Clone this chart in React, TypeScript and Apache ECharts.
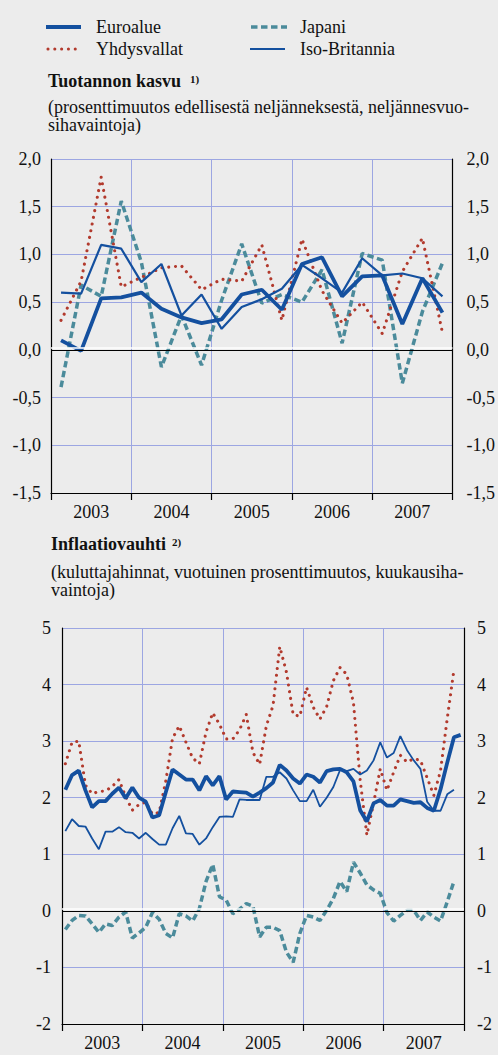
import React, { useEffect, useRef } from 'react';
import * as echarts from 'echarts';

// ---------- categories ----------
const years = ['2003', '2004', '2005', '2006', '2007'];
const quarterNames = ['Q1', 'Q2', 'Q3', 'Q4'];
const monthNames = ['01', '02', '03', '04', '05', '06', '07', '08', '09', '10', '11', '12'];
const quarters = years.flatMap((y) => quarterNames.map((q) => `${y} ${q}`));
const months = years.flatMap((y) => monthNames.map((m) => `${y}-${m}`));

// ---------- Tuotannon kasvu (quarterly, %) ----------
const gdpEuro = [0.10, -0.01, 0.54, 0.55, 0.60, 0.43, 0.34, 0.28, 0.32, 0.58, 0.63, 0.42, 0.90, 0.97, 0.56, 0.77, 0.78, 0.27, 0.75, 0.39];
const gdpUS = [0.31, 0.72, 1.81, 0.66, 0.76, 0.86, 0.88, 0.63, 0.74, 0.72, 1.10, 0.31, 1.16, 0.62, 0.28, 0.50, 0.17, 0.82, 1.17, 0.18];
const gdpJapan = [-0.39, 0.68, 0.56, 1.56, 0.92, -0.18, 0.36, -0.16, 0.52, 1.11, 0.49, 0.58, 0.50, 0.84, 0.07, 1.01, 0.94, -0.35, 0.40, 0.91];
const gdpUK = [0.60, 0.59, 1.10, 1.06, 0.71, 0.90, 0.36, 0.58, 0.22, 0.45, 0.53, 0.64, 0.89, 0.75, 0.60, 0.96, 0.78, 0.80, 0.75, 0.56];

// ---------- Inflaatiovauhti (monthly, %) ----------
const cpiEuro = [
  2.14, 2.40, 2.48, 2.13, 1.83, 1.94, 1.94, 2.07, 2.18, 1.99, 2.18, 2.00,
  1.93, 1.65, 1.69, 2.10, 2.50, 2.41, 2.32, 2.32, 2.13, 2.38, 2.22, 2.38,
  1.97, 2.11, 2.10, 2.09, 2.02, 2.09, 2.17, 2.27, 2.58, 2.48, 2.34, 2.25,
  2.41, 2.37, 2.27, 2.47, 2.50, 2.51, 2.45, 2.29, 1.78, 1.58, 1.90, 1.96,
  1.86, 1.86, 1.97, 1.94, 1.91, 1.92, 1.82, 1.77, 2.15, 2.62, 3.07, 3.11,
];
const cpiUS = [
  2.60, 2.98, 3.00, 2.22, 2.07, 2.11, 2.12, 2.20, 2.32, 2.02, 1.78, 1.88,
  1.92, 1.71, 1.74, 2.30, 3.05, 3.27, 2.98, 2.70, 2.60, 3.16, 3.50, 3.30,
  3.04, 3.04, 3.20, 3.47, 2.80, 2.59, 3.27, 3.63, 4.67, 4.22, 3.47, 3.44,
  3.95, 3.60, 3.39, 3.61, 4.07, 4.30, 4.18, 3.68, 2.31, 1.34, 1.90, 2.51,
  2.13, 2.45, 2.75, 2.63, 2.69, 2.66, 2.35, 2.04, 2.48, 3.40, 4.26, null,
];
const cpiJapan = [
  -0.33, -0.17, -0.08, -0.09, -0.23, -0.38, -0.23, -0.26, -0.11, -0.02, -0.48, -0.39,
  -0.29, -0.03, -0.15, -0.40, -0.48, -0.05, -0.09, -0.18, 0.04, 0.52, 0.82, 0.25,
  0.19, -0.05, 0.03, 0.13, 0.08, -0.46, -0.29, -0.29, -0.35, -0.73, -0.91, -0.40,
  -0.08, -0.11, -0.17, 0.01, 0.22, 0.52, 0.34, 0.86, 0.67, 0.46, 0.37, 0.31,
  -0.03, -0.18, -0.08, 0.01, 0.01, -0.17, -0.02, -0.11, -0.18, 0.16, 0.52, null,
];
const cpiUK = [
  1.41, 1.62, 1.50, 1.49, 1.28, 1.09, 1.40, 1.40, 1.48, 1.39, 1.38, 1.28,
  1.38, 1.27, 1.17, 1.17, 1.46, 1.68, 1.37, 1.36, 1.17, 1.28, 1.48, 1.66,
  1.67, 1.66, 1.97, 1.96, 1.96, 1.96, 2.37, 2.37, 2.45, 2.34, 2.13, 1.94,
  1.94, 2.14, 1.84, 2.00, 2.19, 2.49, 2.47, 2.51, 2.41, 2.48, 2.66, 2.98,
  2.71, 2.79, 3.09, 2.84, 2.66, 2.51, 1.93, 1.77, 1.77, 2.06, 2.14, null,
];

// ---------- axis scales ----------
const gdpAxis = { min: -1.5, max: 2.0, interval: 0.5 };
const cpiAxis = { min: -2, max: 5, interval: 1 };

// ---------- texts ----------
const legendNames = { euro: 'Euroalue', us: 'Yhdysvallat', japan: 'Japani', uk: 'Iso-Britannia' };
const title1 = 'Tuotannon kasvu';
const note1 = '1)';
const sub1 = ['(prosenttimuutos edellisestä neljänneksestä, neljännesvuo-', 'sihavaintoja)'];
const title2 = 'Inflaatiovauhti';
const note2 = '2)';
const sub2 = ['(kuluttajahinnat, vuotuinen prosenttimuutos, kuukausiha-', 'vaintoja)'];

// ---------- styles ----------
const BG = '#ececec';
const BLUE = '#14509f';
const RED = '#b23a2d';
const TEAL = '#4b8b9b';
const GRID = '#9ca6e2';
const INK = '#111111';
const FONT = "'Liberation Serif', 'Times New Roman', serif";

const dotted = [0.01, 6.8];
const dashed = [6.5, 3.5];

function txt(text: string, x: number, y: number, size: number, bold = false) {
  return {
    type: 'text',
    x,
    y,
    silent: true,
    style: {
      text,
      fill: INK,
      fontFamily: FONT,
      fontSize: size,
      fontWeight: bold ? 'bold' : 'normal',
      textVerticalAlign: 'middle',
      verticalAlign: 'middle',
    },
  };
}

function legendLine(x1: number, x2: number, y: number, color: string, width: number, dash?: number[], cap = 'butt') {
  return {
    type: 'line',
    silent: true,
    shape: { x1, y1: y, x2, y2: y },
    style: { stroke: color, lineWidth: width, lineDash: dash, lineCap: cap },
  };
}

function zeroLine(offset: number) {
  return {
    silent: true,
    symbol: ['none', 'none'],
    label: { show: false },
    emphasis: { disabled: true },
    data: [
      { yAxis: 0, lineStyle: { color: '#000', width: 1.2, type: 'solid' } },
      { yAxis: offset, lineStyle: { color: '#ffffff', width: 1.6, type: 'solid' } },
    ],
  };
}

function yearAxis(gridIndex: number, margin: number) {
  return {
    type: 'category',
    gridIndex,
    data: years,
    position: 'bottom',
    boundaryGap: true,
    axisLine: { show: true, onZero: false, lineStyle: { color: '#000', width: 1.2 } },
    axisTick: { show: true, inside: false, length: 7, interval: 0, lineStyle: { color: '#000', width: 1.2 } },
    axisLabel: { show: true, interval: 0, margin, color: INK, fontFamily: FONT, fontSize: 18 },
    splitLine: { show: true, interval: 0, lineStyle: { color: GRID, width: 1 } },
  };
}

function dataAxis(gridIndex: number, data: string[]) {
  return { type: 'category', gridIndex, data, boundaryGap: true, show: false };
}

function valueAxis(gridIndex: number, position: string, scale: any, margin: number, decimals: number, split: boolean) {
  return {
    type: 'value',
    gridIndex,
    position,
    min: scale.min,
    max: scale.max,
    interval: scale.interval,
    axisLine: { show: true, lineStyle: { color: '#000', width: 1.2 } },
    axisTick: { show: false },
    axisLabel: {
      margin,
      color: INK,
      fontFamily: FONT,
      fontSize: 18,
      formatter: (v: number) => v.toFixed(decimals).replace('.', ','),
    },
    splitLine: { show: split, lineStyle: { color: GRID, width: 1 } },
  };
}

function seriesSet(xAxisIndex: number, yAxisIndex: number, d: { euro: any[]; us: any[]; japan: any[]; uk: any[] }, ukWidth: number, zeroOffset: number) {
  const base = { type: 'line', xAxisIndex, yAxisIndex, symbol: 'none', showSymbol: false, connectNulls: false, silent: true };
  return [
    { ...base, name: legendNames.japan, data: d.japan, lineStyle: { color: TEAL, width: 3.5, type: dashed, cap: 'butt' }, markLine: zeroLine(zeroOffset) },
    { ...base, name: legendNames.us, data: d.us, lineStyle: { color: RED, width: 3.1, type: dotted, cap: 'round' } },
    { ...base, name: legendNames.uk, data: d.uk, lineStyle: { color: BLUE, width: ukWidth } },
    { ...base, name: legendNames.euro, data: d.euro, lineStyle: { color: BLUE, width: 3.8 } },
  ];
}

const option: any = {
  animation: false,
  backgroundColor: BG,
  textStyle: { fontFamily: FONT },
  grid: [
    { left: 51, top: 159, width: 402, height: 334, containLabel: false },
    { left: 62, top: 628, width: 402, height: 396, containLabel: false },
  ],
  xAxis: [yearAxis(0, 10), dataAxis(0, quarters), yearAxis(1, 10), dataAxis(1, months)],
  yAxis: [
    valueAxis(0, 'left', gdpAxis, 10, 1, true),
    valueAxis(0, 'right', gdpAxis, 14, 1, false),
    valueAxis(1, 'left', cpiAxis, 11, 0, true),
    valueAxis(1, 'right', cpiAxis, 13, 0, false),
  ],
  series: [
    ...seriesSet(1, 0, { euro: gdpEuro, us: gdpUS, japan: gdpJapan, uk: gdpUK }, 2.2, 0.017),
    ...seriesSet(3, 2, { euro: cpiEuro, us: cpiUS, japan: cpiJapan, uk: cpiUK }, 1.8, 0.028),
  ],
  graphic: [
    legendLine(46, 81, 27, BLUE, 3.8),
    txt(legendNames.euro, 96, 27, 18),
    legendLine(48, 82, 49, RED, 3.1, dotted, 'round'),
    txt(legendNames.us, 96, 49, 18),
    legendLine(251, 287, 27, TEAL, 3.5, dashed),
    txt(legendNames.japan, 300, 27, 18),
    legendLine(250, 285, 49, BLUE, 2.2),
    txt(legendNames.uk, 300, 49, 18),
    txt(title1, 48, 81, 18, true),
    txt(note1, 190, 79, 11, true),
    txt(sub1[0], 48, 107, 18),
    txt(sub1[1], 48, 125, 18),
    txt(title2, 51, 544, 18, true),
    txt(note2, 172, 542, 11, true),
    txt(sub2[0], 51, 572, 18),
    txt(sub2[1], 51, 590, 18),
  ],
};

export default function App() {
  const ref = useRef<HTMLDivElement>(null);
  useEffect(() => {
    document.body.style.margin = '0';
    document.body.style.background = BG;
    const chart = echarts.init(ref.current as HTMLDivElement, null, { renderer: 'svg' });
    chart.setOption(option);
    return () => chart.dispose();
  }, []);
  return <div ref={ref} style={{ width: 498, height: 1055 }} />;
}
